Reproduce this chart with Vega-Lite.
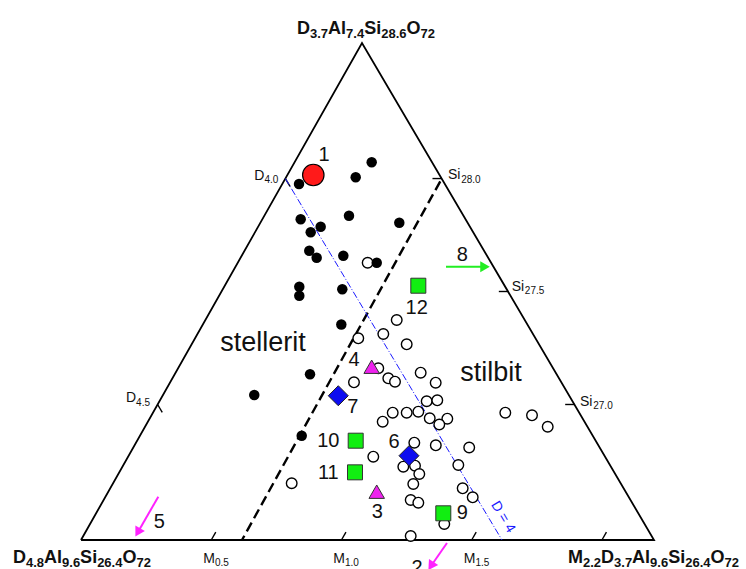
{
  "$schema": "https://vega.github.io/schema/vega-lite/v6.json",
  "width": 746,
  "height": 569,
  "autosize": "none",
  "padding": 0,
  "background": "white",
  "config": {"view": {"stroke": null}, "text": {"font": "Liberation Sans", "color": "#111"}},
  "datasets": {
    "frame": [
      {"i": 0, "x": 0, "y": 0},
      {"i": 1, "x": 1, "y": 0},
      {"i": 2, "x": 0.4904, "y": 0.8674},
      {"i": 3, "x": 0, "y": 0}
    ],
    "ticks": [
      {"x": 0.2273, "y": 0, "x2": 0.2352, "y2": 0.0139},
      {"x": 0.4545, "y": 0, "x2": 0.4624, "y2": 0.0139},
      {"x": 0.6818, "y": 0, "x2": 0.6897, "y2": 0.0139},
      {"x": 0.9091, "y": 0, "x2": 0.9170, "y2": 0.0139},
      {"x": 0.3567, "y": 0.6308, "x2": 0.3648, "y2": 0.6170},
      {"x": 0.1337, "y": 0.2365, "x2": 0.1418, "y2": 0.2227},
      {"x": 0.6294, "y": 0.6308, "x2": 0.6134, "y2": 0.6308},
      {"x": 0.7452, "y": 0.4337, "x2": 0.7292, "y2": 0.4337},
      {"x": 0.8610, "y": 0.2365, "x2": 0.8450, "y2": 0.2365}
    ],
    "boundary": [{"x": 0.627, "y": 0.626, "x2": 0.281, "y2": 0}],
    "dline": [{"x": 0.3567, "y": 0.6308, "x2": 0.7347, "y2": 0}],
    "arrows": [
      {"arrow": "8", "x": 0.6370, "y": 0.4770, "x2": 0.7051, "y2": 0.4770, "hx": 0.7051, "hy": 0.4770, "dir": 90},
      {"arrow": "5", "x": 0.1349, "y": 0.0756, "x2": 0.0990, "y2": 0.0131, "hx": 0.0990, "hy": 0.0131, "dir": 210},
      {"arrow": "2", "x": 0.6387, "y": -0.0052, "x2": 0.6108, "y2": -0.0454, "hx": 0.6108, "hy": -0.0454, "dir": 213}
    ],
    "points": [
      {"t": "open", "x": 0.5003, "y": 0.4839},
      {"t": "open", "x": 0.5510, "y": 0.3839},
      {"t": "open", "x": 0.4839, "y": 0.3520},
      {"t": "open", "x": 0.5276, "y": 0.3595},
      {"t": "open", "x": 0.5684, "y": 0.3415},
      {"t": "open", "x": 0.5188, "y": 0.2997},
      {"t": "open", "x": 0.5928, "y": 0.2920},
      {"t": "open", "x": 0.5363, "y": 0.2822},
      {"t": "open", "x": 0.5480, "y": 0.2763},
      {"t": "open", "x": 0.6190, "y": 0.2745},
      {"t": "open", "x": 0.4764, "y": 0.2752},
      {"t": "open", "x": 0.6033, "y": 0.2421},
      {"t": "open", "x": 0.6218, "y": 0.2438},
      {"t": "open", "x": 0.5440, "y": 0.2222},
      {"t": "open", "x": 0.5684, "y": 0.2222},
      {"t": "open", "x": 0.5887, "y": 0.2239},
      {"t": "open", "x": 0.5265, "y": 0.2065},
      {"t": "open", "x": 0.6086, "y": 0.2124},
      {"t": "open", "x": 0.6393, "y": 0.2117},
      {"t": "open", "x": 0.6253, "y": 0.2016},
      {"t": "open", "x": 0.7405, "y": 0.2222},
      {"t": "open", "x": 0.7871, "y": 0.2176},
      {"t": "open", "x": 0.8145, "y": 0.1977},
      {"t": "open", "x": 0.5817, "y": 0.1698},
      {"t": "open", "x": 0.6192, "y": 0.1653},
      {"t": "open", "x": 0.6775, "y": 0.1614},
      {"t": "open", "x": 0.5101, "y": 0.1454},
      {"t": "open", "x": 0.5625, "y": 0.1279},
      {"t": "open", "x": 0.5829, "y": 0.1297},
      {"t": "open", "x": 0.6585, "y": 0.1309},
      {"t": "open", "x": 0.5904, "y": 0.1152},
      {"t": "open", "x": 0.3677, "y": 0.0990},
      {"t": "open", "x": 0.5799, "y": 0.0977},
      {"t": "open", "x": 0.6661, "y": 0.0902},
      {"t": "open", "x": 0.6836, "y": 0.0745},
      {"t": "open", "x": 0.5754, "y": 0.0698},
      {"t": "open", "x": 0.5887, "y": 0.0651},
      {"t": "open", "x": 0.6340, "y": 0.0279},
      {"t": "open", "x": 0.5754, "y": 0.0070},
      {"t": "dot", "x": 0.5073, "y": 0.6592},
      {"t": "dot", "x": 0.4794, "y": 0.6330},
      {"t": "dot", "x": 0.3805, "y": 0.6213},
      {"t": "dot", "x": 0.4677, "y": 0.5660},
      {"t": "dot", "x": 0.5555, "y": 0.5538},
      {"t": "dot", "x": 0.3834, "y": 0.5597},
      {"t": "dot", "x": 0.4183, "y": 0.5468},
      {"t": "dot", "x": 0.4009, "y": 0.5370},
      {"t": "dot", "x": 0.3984, "y": 0.5049},
      {"t": "dot", "x": 0.4113, "y": 0.4927},
      {"t": "dot", "x": 0.4578, "y": 0.4962},
      {"t": "dot", "x": 0.5161, "y": 0.4839},
      {"t": "dot", "x": 0.3810, "y": 0.4421},
      {"t": "dot", "x": 0.3810, "y": 0.4264},
      {"t": "dot", "x": 0.4560, "y": 0.4375},
      {"t": "dot", "x": 0.4543, "y": 0.3761},
      {"t": "dot", "x": 0.3997, "y": 0.2892},
      {"t": "dot", "x": 0.3024, "y": 0.2531},
      {"t": "dot", "x": 0.3852, "y": 0.1820},
      {"t": "red", "x": 0.4054, "y": 0.6370},
      {"t": "green", "x": 0.5887, "y": 0.4438},
      {"t": "green", "x": 0.4794, "y": 0.1733},
      {"t": "green", "x": 0.4782, "y": 0.1181},
      {"t": "green", "x": 0.6323, "y": 0.0466},
      {"t": "blue", "x": 0.4490, "y": 0.2518},
      {"t": "blue", "x": 0.5724, "y": 0.1471},
      {"t": "magenta", "x": 0.5073, "y": 0.3024},
      {"t": "magenta", "x": 0.5161, "y": 0.0843}
    ],
    "numbers": [
      {"x": 0.4241, "y": 0.6719, "text": "1"},
      {"x": 0.5859, "y": 0.4044, "text": "12"},
      {"x": 0.6654, "y": 0.4974, "text": "8"},
      {"x": 0.4764, "y": 0.3141, "text": "4"},
      {"x": 0.4742, "y": 0.2316, "text": "7"},
      {"x": 0.4316, "y": 0.1733, "text": "10"},
      {"x": 0.5462, "y": 0.1716, "text": "6"},
      {"x": 0.4316, "y": 0.1164, "text": "11"},
      {"x": 0.5171, "y": 0.0494, "text": "3"},
      {"x": 0.6654, "y": 0.0466, "text": "9"},
      {"x": 0.1366, "y": 0.0319, "text": "5"},
      {"x": 0.5864, "y": -0.0489, "text": "2"}
    ],
    "regions": [
      {"x": 0.3176, "y": 0.3438, "text": "stellerit"},
      {"x": 0.7155, "y": 0.2914, "text": "stilbit"}
    ],
    "dlabels": [
      {"x": 0.3443, "y": 0.6283, "a": "D", "b": "4.0"},
      {"x": 0.1204, "y": 0.2408, "a": "D", "b": "4.5"}
    ],
    "silabels": [
      {"x": 0.6405, "y": 0.6300, "a": "Si", "b": "28.0"},
      {"x": 0.7516, "y": 0.4346, "a": "Si", "b": "27.5"},
      {"x": 0.8709, "y": 0.2339, "a": "Si", "b": "27.0"}
    ],
    "mlabels": [
      {"x": 0.2356, "y": -0.0401, "a": "M", "b": "0.5"},
      {"x": 0.4625, "y": -0.0401, "a": "M", "b": "1.0"},
      {"x": 0.6902, "y": -0.0401, "a": "M", "b": "1.5"}
    ],
    "formulas": [
      {"x": 0.3770, "y": 0.8831, "a": "D", "b": "3.7", "c": "Al", "d": "7.4", "e": "Si", "f": "28.6", "g": "O", "h": "72"},
      {"x": -0.1187, "y": -0.0401, "a": "D", "b": "4.8", "c": "Al", "d": "9.6", "e": "Si", "f": "26.4", "g": "O", "h": "72"},
      {"x": 0.9076, "y": -0.0401, "a": "D", "b": "3.7", "c": "Al", "d": "9.6", "e": "Si", "f": "26.4", "g": "O", "h": "72"}
    ],
    "mprefix": [{"x": 0.8499, "y": -0.0401, "a": "M", "b": "2.2"}],
    "dtag": [{"x": 0.7365, "y": 0.0401, "text": "D = 4"}]
  },
  "encoding": {
    "x": {"field": "x", "type": "quantitative", "scale": {"domain": [-0.14136, 1.16056], "nice": false, "zero": false}, "axis": null},
    "y": {"field": "y", "type": "quantitative", "scale": {"domain": [-0.05061, 0.94241], "nice": false, "zero": false}, "axis": null}
  },
  "layer": [
    {
      "data": {"name": "frame"},
      "mark": {"type": "line", "color": "black", "strokeWidth": 1.8, "strokeJoin": "miter"},
      "encoding": {"order": {"field": "i", "type": "quantitative"}}
    },
    {
      "data": {"name": "ticks"},
      "mark": {"type": "rule", "color": "black", "strokeWidth": 1.4},
      "encoding": {"x2": {"field": "x2"}, "y2": {"field": "y2"}}
    },
    {
      "data": {"name": "boundary"},
      "mark": {"type": "rule", "color": "black", "strokeWidth": 2.4, "strokeDash": [10, 5]},
      "encoding": {"x2": {"field": "x2"}, "y2": {"field": "y2"}}
    },
    {
      "data": {"name": "dline"},
      "mark": {"type": "rule", "color": "#1a1aff", "strokeWidth": 1, "strokeDash": [7, 2, 1, 2]},
      "encoding": {"x2": {"field": "x2"}, "y2": {"field": "y2"}}
    },
    {
      "data": {"name": "arrows"},
      "mark": {"type": "rule", "strokeWidth": 2},
      "encoding": {
        "x2": {"field": "x2"},
        "y2": {"field": "y2"},
        "color": {"field": "arrow", "type": "nominal", "scale": {"domain": ["8", "5", "2"], "range": ["#22ee22", "#ff22ff", "#ff22ff"]}, "legend": null}
      }
    },
    {
      "data": {"name": "arrows"},
      "mark": {"type": "point", "shape": "triangle-up", "filled": true, "size": 121, "opacity": 1},
      "encoding": {
        "x": {"field": "hx", "type": "quantitative"},
        "y": {"field": "hy", "type": "quantitative"},
        "angle": {"field": "dir", "type": "quantitative", "scale": {"domain": [0, 360], "range": [0, 360]}},
        "color": {"field": "arrow", "type": "nominal", "scale": {"domain": ["8", "5", "2"], "range": ["#22ee22", "#ff22ff", "#ff22ff"]}, "legend": null}
      }
    },
    {
      "data": {"name": "points"},
      "transform": [{"filter": "datum.t === 'open'"}],
      "mark": {"type": "point", "shape": "circle", "filled": true, "fill": "white", "stroke": "black", "strokeWidth": 1.4, "size": 112, "opacity": 1}
    },
    {
      "data": {"name": "points"},
      "transform": [{"filter": "datum.t === 'dot'"}],
      "mark": {"type": "point", "shape": "circle", "filled": true, "fill": "black", "strokeWidth": 0, "size": 110, "opacity": 1}
    },
    {
      "data": {"name": "points"},
      "transform": [{"filter": "datum.t === 'red'"}],
      "mark": {"type": "point", "shape": "circle", "filled": true, "fill": "#ff1a1a", "stroke": "black", "strokeWidth": 1.2, "size": 460, "opacity": 1}
    },
    {
      "data": {"name": "points"},
      "transform": [{"filter": "datum.t === 'green'"}],
      "mark": {"type": "point", "shape": "square", "filled": true, "fill": "#11ee11", "stroke": "#333", "strokeWidth": 1, "size": 225, "opacity": 1}
    },
    {
      "data": {"name": "points"},
      "transform": [{"filter": "datum.t === 'blue'"}],
      "mark": {"type": "point", "shape": "diamond", "filled": true, "fill": "#0d0df0", "stroke": "#222", "strokeWidth": 1, "size": 400, "opacity": 1}
    },
    {
      "data": {"name": "points"},
      "transform": [{"filter": "datum.t === 'magenta'"}],
      "mark": {"type": "point", "shape": "triangle-up", "filled": true, "fill": "#ee22ee", "stroke": "#333", "strokeWidth": 1, "size": 240, "opacity": 1}
    },
    {
      "data": {"name": "numbers"},
      "mark": {"type": "text", "fontSize": 20, "align": "center", "baseline": "middle"},
      "encoding": {"text": {"field": "text"}}
    },
    {
      "data": {"name": "regions"},
      "mark": {"type": "text", "fontSize": 27, "align": "center", "baseline": "middle"},
      "encoding": {"text": {"field": "text"}}
    },
    {
      "data": {"name": "dlabels"},
      "mark": {"type": "text", "fontSize": 14, "align": "right", "baseline": "alphabetic", "dx": -13.9},
      "encoding": {"text": {"field": "a"}}
    },
    {
      "data": {"name": "dlabels"},
      "mark": {"type": "text", "fontSize": 10, "align": "right", "baseline": "alphabetic", "dy": 3.5},
      "encoding": {"text": {"field": "b"}}
    },
    {
      "data": {"name": "silabels"},
      "mark": {"type": "text", "fontSize": 14, "align": "left", "baseline": "alphabetic"},
      "encoding": {"text": {"field": "a"}}
    },
    {
      "data": {"name": "silabels"},
      "mark": {"type": "text", "fontSize": 10, "align": "left", "baseline": "alphabetic", "dx": 13.2, "dy": 3.5},
      "encoding": {"text": {"field": "b"}}
    },
    {
      "data": {"name": "mlabels"},
      "mark": {"type": "text", "fontSize": 14, "align": "left", "baseline": "alphabetic", "dx": -12.8},
      "encoding": {"text": {"field": "a"}}
    },
    {
      "data": {"name": "mlabels"},
      "mark": {"type": "text", "fontSize": 10, "align": "left", "baseline": "alphabetic", "dx": -1.1, "dy": 3.5},
      "encoding": {"text": {"field": "b"}}
    },
    {
      "data": {"name": "formulas"},
      "mark": {"type": "text", "fontSize": 18, "fontWeight": "bold", "align": "left", "baseline": "alphabetic", "dx": 0},
      "encoding": {"text": {"field": "a"}}
    },
    {
      "data": {"name": "formulas"},
      "mark": {"type": "text", "fontSize": 13, "fontWeight": "bold", "align": "left", "baseline": "alphabetic", "dx": 13.0, "dy": 4},
      "encoding": {"text": {"field": "b"}}
    },
    {
      "data": {"name": "formulas"},
      "mark": {"type": "text", "fontSize": 18, "fontWeight": "bold", "align": "left", "baseline": "alphabetic", "dx": 31.07},
      "encoding": {"text": {"field": "c"}}
    },
    {
      "data": {"name": "formulas"},
      "mark": {"type": "text", "fontSize": 13, "fontWeight": "bold", "align": "left", "baseline": "alphabetic", "dx": 49.07, "dy": 4},
      "encoding": {"text": {"field": "d"}}
    },
    {
      "data": {"name": "formulas"},
      "mark": {"type": "text", "fontSize": 18, "fontWeight": "bold", "align": "left", "baseline": "alphabetic", "dx": 67.14},
      "encoding": {"text": {"field": "e"}}
    },
    {
      "data": {"name": "formulas"},
      "mark": {"type": "text", "fontSize": 13, "fontWeight": "bold", "align": "left", "baseline": "alphabetic", "dx": 84.15, "dy": 4},
      "encoding": {"text": {"field": "f"}}
    },
    {
      "data": {"name": "formulas"},
      "mark": {"type": "text", "fontSize": 18, "fontWeight": "bold", "align": "left", "baseline": "alphabetic", "dx": 109.45},
      "encoding": {"text": {"field": "g"}}
    },
    {
      "data": {"name": "formulas"},
      "mark": {"type": "text", "fontSize": 13, "fontWeight": "bold", "align": "left", "baseline": "alphabetic", "dx": 123.45, "dy": 4},
      "encoding": {"text": {"field": "h"}}
    },
    {
      "data": {"name": "mprefix"},
      "mark": {"type": "text", "fontSize": 18, "fontWeight": "bold", "align": "left", "baseline": "alphabetic"},
      "encoding": {"text": {"field": "a"}}
    },
    {
      "data": {"name": "mprefix"},
      "mark": {"type": "text", "fontSize": 13, "fontWeight": "bold", "align": "left", "baseline": "alphabetic", "dx": 15.0, "dy": 4},
      "encoding": {"text": {"field": "b"}}
    },
    {
      "data": {"name": "dtag"},
      "mark": {"type": "text", "fontSize": 14, "angle": 59, "align": "center", "baseline": "middle", "color": "#1a1aff"},
      "encoding": {"text": {"field": "text"}}
    }
  ]
}
